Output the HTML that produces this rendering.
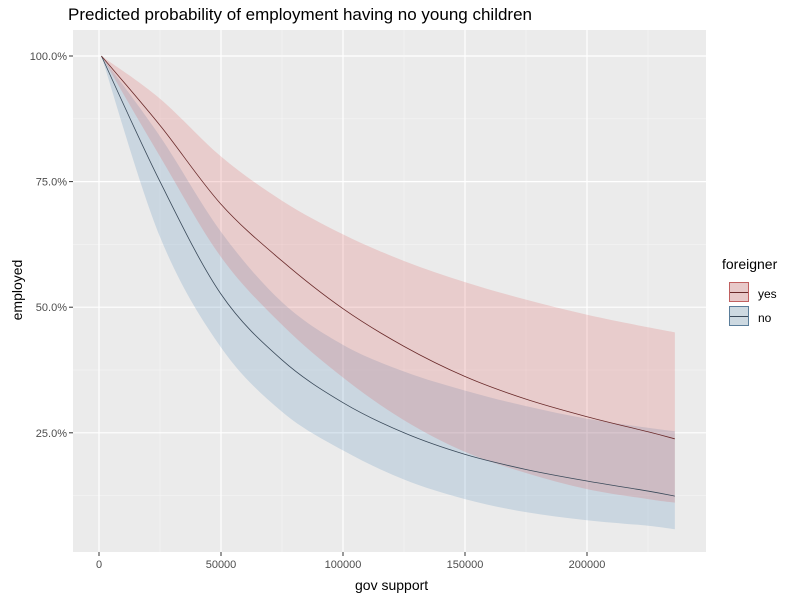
<!DOCTYPE html>
<html><head><meta charset="utf-8"><style>
body{margin:0;background:#fff;font-family:"Liberation Sans",sans-serif}
</style></head><body>
<svg id="c" width="800" height="600" xmlns="http://www.w3.org/2000/svg"></svg>
<script>
const xs=[1000,25000,50000,75000,100000,125000,150000,175000,200000,225000,236000];
const yesMid=[1.0,0.862,0.705,0.592,0.497,0.422,0.362,0.317,0.282,0.252,0.238];
const yesHi=[1.0,0.915,0.80,0.712,0.645,0.592,0.55,0.515,0.485,0.46,0.45];
const yesLo=[1.0,0.80,0.60,0.465,0.36,0.275,0.212,0.17,0.138,0.118,0.111];
const noMid=[1.0,0.75,0.526,0.395,0.31,0.25,0.207,0.177,0.154,0.134,0.124];
const noHi=[1.0,0.84,0.65,0.51,0.425,0.372,0.334,0.303,0.278,0.26,0.253];
const noLo=[1.0,0.64,0.42,0.292,0.215,0.157,0.118,0.092,0.076,0.065,0.058];
const xTicks=[0,50000,100000,150000,200000];
const yTicks=[0.25,0.5,0.75,1.0];
const yTickLabels=["25.0%","50.0%","75.0%","100.0%"];

const svg=document.getElementById('c');
const NS="http://www.w3.org/2000/svg";
const L=73,R=706,T=30,B=552;
const X=v=>99+(v-0)*122/50000;
const Y=v=>56+(1-v)*502.4;
function mk(tag,attrs,parent){const e=document.createElementNS(NS,tag);for(const k in attrs)e.setAttribute(k,attrs[k]);(parent||svg).appendChild(e);return e;}
function smooth(pts,start){
  let d=start?('M'+pts[0][0]+','+pts[0][1]):(' L'+pts[0][0]+','+pts[0][1]);
  for(let i=0;i<pts.length-1;i++){
    const p0=pts[Math.max(0,i-1)],p1=pts[i],p2=pts[i+1],p3=pts[Math.min(pts.length-1,i+2)];
    const c1=[p1[0]+(p2[0]-p0[0])/6,p1[1]+(p2[1]-p0[1])/6];
    const c2=[p2[0]-(p3[0]-p1[0])/6,p2[1]-(p3[1]-p1[1])/6];
    d+=' C'+c1+' '+c2+' '+p2;
  }
  return d;
}
let e;
e=mk('rect',{x:L,y:T,width:R-L,height:B-T,fill:'#ebebeb'});


for(let i=0;i<xTicks.length;i++){const v=xTicks[i]+25000;if(X(v)<R){mk('line',{x1:X(v),x2:X(v),y1:T,y2:B,stroke:'#f5f5f5','stroke-width':0.6});}}
for(let v=0.125;v<=0.875;v+=0.25){mk('line',{x1:L,x2:R,y1:Y(v),y2:Y(v),stroke:'#f5f5f5','stroke-width':0.6});}
for(const v of xTicks){mk('line',{x1:X(v),x2:X(v),y1:T,y2:B,stroke:'#fff','stroke-width':1.2});}
for(const v of yTicks){mk('line',{x1:L,x2:R,y1:Y(v),y2:Y(v),stroke:'#fff','stroke-width':1.2});}
function band(hi,lo,fill,name){
  const top=xs.map((x,i)=>[X(x),Y(hi[i])]);
  const bot=xs.map((x,i)=>[X(x),Y(lo[i])]).reverse();
  const d=smooth(top,true)+smooth(bot,false)+' Z';
  const p=mk('path',{d:d,fill:fill});
  
  
}
function line(m,col,name){
  const p=mk('path',{d:smooth(xs.map((x,i)=>[X(x),Y(m[i])]),true),fill:'none',stroke:col,'stroke-width':0.8});
  
  
}
band(noHi,noLo,'rgba(70,130,180,0.2)','band-no');
band(yesHi,yesLo,'rgba(220,80,80,0.2)','band-yes');
line(noMid,'#3a4a5a','line-no');
line(yesMid,'#6a2a2a','line-yes');
xTicks.forEach(v=>{mk('line',{x1:X(v),x2:X(v),y1:B,y2:B+4,stroke:'#333'});const t=mk('text',{x:X(v),y:B+16,'text-anchor':'middle','font-size':11,fill:'#4d4d4d'});t.textContent=v;});
yTicks.forEach((v,i)=>{mk('line',{x1:L-4,x2:L,y1:Y(v),y2:Y(v),stroke:'#333'});const t=mk('text',{x:L-6,y:Y(v)+4,'text-anchor':'end','font-size':11,fill:'#4d4d4d'});t.textContent=yTickLabels[i];});
</script>
<div style="position:absolute;left:68px;top:5px;font-size:17px;color:#000">Predicted probability of employment having no young children</div>
<div style="position:absolute;left:355px;top:577px;font-size:14px">gov support</div>
<div style="position:absolute;left:-18px;top:282px;font-size:14px;transform:rotate(-90deg);width:70px;text-align:center">employed</div>
<div style="position:absolute;left:722px;top:256px;font-size:14px">foreigner</div>
<div style="position:absolute;left:729px;top:282px;width:20px;height:20px;background:#e8c9c9;border:1px solid #c06060;box-sizing:border-box"><div style="margin-top:9px;height:1px;background:#6a2a2a"></div></div>
<div style="position:absolute;left:758px;top:287px;font-size:12px">yes</div>
<div style="position:absolute;left:729px;top:306px;width:20px;height:20px;background:#cdd9e1;border:1px solid #5a7d9a;box-sizing:border-box"><div style="margin-top:9px;height:1px;background:#3a4a5a"></div></div>
<div style="position:absolute;left:758px;top:311px;font-size:12px">no</div>
</body></html>
